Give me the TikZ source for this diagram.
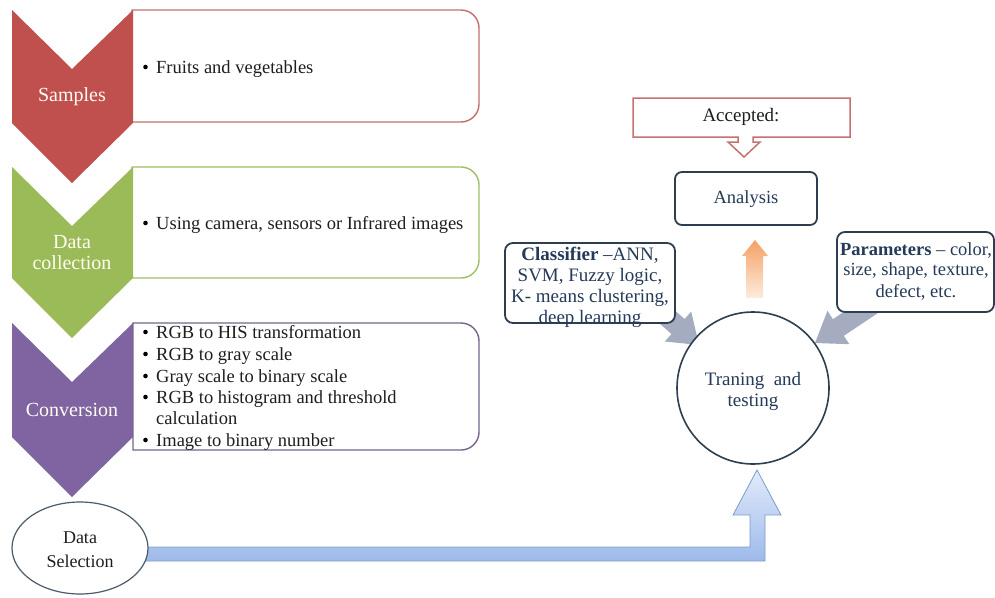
\documentclass[tikz,border=0pt]{standalone}
\usepackage{fontspec}
\setmainfont{Liberation Serif}
\usetikzlibrary{shapes.geometric}
\definecolor{cred}{RGB}{192,80,77}
\definecolor{cgreen}{RGB}{155,187,89}
\definecolor{cpurple}{RGB}{128,100,162}
\definecolor{credline}{RGB}{196,110,108}
\definecolor{cgreenline}{RGB}{160,190,100}
\definecolor{cpurpleline}{RGB}{118,100,140}
\definecolor{dkline}{RGB}{44,62,80}
\definecolor{dktext}{RGB}{36,58,88}
\definecolor{garrow}{RGB}{166,172,192}
\definecolor{blueline}{RGB}{125,155,205}
\definecolor{bluetop}{RGB}{226,235,250}
\definecolor{bluebot}{RGB}{158,186,235}
\definecolor{orangetop}{RGB}{245,160,100}
\definecolor{orangebot}{RGB}{253,236,222}
\definecolor{calline}{RGB}{198,112,112}
\definecolor{bodytext}{RGB}{30,30,30}
\tikzset{
  chevlabel/.style={text=white!95!yellow, font=\fontsize{20}{21}\selectfont, align=center, inner sep=0pt},
  linetext/.style={text=bodytext, font=\fontsize{18.5}{21.6}\selectfont, anchor=base west, inner sep=0pt},
  bulletdot/.style={fill=black, circle, inner sep=0pt, minimum size=4.6pt},
  rbox/.style={line width=1.4pt, fill=white},
  dkbox/.style={draw=dkline, line width=1.8pt, rounded corners=8pt, fill=white, text=dktext, align=center, inner sep=0pt},
  grayarrow/.style={fill=garrow},
}
\begin{document}
\begin{tikzpicture}[x=1pt,y=-1pt]
\useasboundingbox (0,0) rectangle (995,597);

% ---- left side boxes (behind chevrons)
\draw[rbox, draw=credline] (132,10) -- (461,10) arc[start angle=-90,end angle=0,radius=18] -- (479,104) arc[start angle=0,end angle=90,radius=18] -- (132,122) -- cycle;
\draw[rbox, draw=cgreenline] (132,167) -- (461,167) arc[start angle=-90,end angle=0,radius=18] -- (479,260) arc[start angle=0,end angle=90,radius=18] -- (132,278) -- cycle;

% ---- chevrons
\fill[cred] (12,10) -- (72,69) -- (133,10) -- (133,123) -- (72,183) -- (12,123) -- cycle;
\fill[cgreen] (12,167) -- (72,226) -- (133,167) -- (133,278) -- (72,338) -- (12,278) -- cycle;
\fill[cpurple] (12,323) -- (72,382) -- (133,323) -- (133,437) -- (72,497) -- (12,437) -- cycle;

\draw[rbox, draw=cpurpleline] (133,323) -- (461,323) arc[start angle=-90,end angle=0,radius=18] -- (479,432) arc[start angle=0,end angle=90,radius=18] -- (133,450) -- cycle;

\node[chevlabel] (samples) at (72,97) {Samples};
\node[chevlabel] (collection) at (72,253) {Data\\collection};
\node[chevlabel] (conversion) at (72,410) {Conversion};

% ---- bullet texts
\node[linetext] (fruits) at (156,73) {Fruits and vegetables};
\node[linetext] (camera) at (156,229) {Using camera, sensors or Infrared images};
\node[linetext] (conv1) at (156,338) {RGB to HIS transformation};
\node[linetext] (conv2) at (156,360) {RGB to gray scale};
\node[linetext] (conv3) at (156,382) {Gray scale to binary scale};
\node[linetext] (conv4) at (156,403) {RGB to histogram and threshold};
\node[linetext] (conv5) at (156,424) {calculation};
\node[linetext] (conv6) at (156,446) {Image to binary number};

% ---- blue arrow from Data Selection to training
\shadedraw[top color=bluetop, bottom color=bluebot, draw=blueline, line width=0.8pt]
  (140,547) -- (750,547) -- (750,515) -- (733,515) -- (757,470) -- (781,515) -- (765,515) -- (765,561) -- (140,561) -- cycle;

\node[draw=dkline!85, line width=1.2pt, fill=white, ellipse, minimum width=136pt, minimum height=92pt, inner sep=0pt] (dsel) at (80,548) {};
\node[text=bodytext, font=\fontsize{18}{24}\selectfont, align=center] (dseltext) at (80,550) {Data\\Selection};

% ---- gray arrows
\fill[grayarrow] (633.4,300.5) -- (671.4,334) -- (664.8,341.5) -- (699,345) -- (691.2,311.5) -- (684.6,319) -- (646.6,285.5) -- cycle;
\fill[grayarrow] (895.5,301.3) -- (843.9,335.8) -- (849.4,344.2) -- (815,343) -- (827.4,310.8) -- (832.9,319.2) -- (884.5,284.7) -- cycle;

% ---- orange arrow
\shade[top color=orangetop, bottom color=orangebot] (755,240) -- (768,256) -- (763,256) -- (763,298) -- (746,298) -- (746,256) -- (742,256) -- cycle;

% ---- right side nodes
\node[draw=dkline, line width=1.6pt, fill=white, circle, minimum size=152pt, inner sep=0pt] (train) at (753,388) {};
\node[text=dktext, font=\fontsize{19}{21}\selectfont, align=center] (traintext) at (753,391) {Traning\ \ and\\testing};

\node[dkbox, minimum width=170pt, minimum height=80pt] (classifier) at (590,283) {};
\node[text=dktext, font=\fontsize{19}{21}\selectfont, align=center, inner sep=0pt] (classtext) at (590,287) {\textbf{Classifier} –ANN,\\SVM, Fuzzy logic,\\K- means clustering,\\deep learning};

\node[dkbox, minimum width=157pt, minimum height=80pt] (params) at (915.5,272) {};
\node[text=dktext, font=\fontsize{18.5}{21}\selectfont, align=center, inner sep=0pt] (paramtext) at (916,271) {\textbf{Parameters} – color,\\size, shape, texture,\\defect, etc.};

\node[dkbox, rounded corners=7pt, minimum width=142pt, minimum height=53pt] (analysis) at (746,198.5) {};
\node[text=dktext, font=\fontsize{18.5}{21}\selectfont] (analysistext) at (746,199) {Analysis};

% ---- accepted callout
\draw[calline, line width=1.5pt, fill=white] (633,98) -- (850,98) -- (850,137) -- (753,137) -- (753,142) -- (760,142) -- (744,157) -- (728,142) -- (738,142) -- (738,137) -- (633,137) -- cycle;
\node[text=bodytext, font=\fontsize{19}{21}\selectfont] (accepted) at (741,117) {Accepted:};

% ---- bullets (drawn last)
\node[bulletdot] (b1) at (145.5,67) {};
\node[bulletdot] (b2) at (145.5,223) {};
\node[bulletdot] (b3) at (145.5,332) {};
\node[bulletdot] (b4) at (145.5,354) {};
\node[bulletdot] (b5) at (145.5,376) {};
\node[bulletdot] (b6) at (145.5,397) {};
\node[bulletdot] (b7) at (145.5,440) {};
\end{tikzpicture}
\end{document}
